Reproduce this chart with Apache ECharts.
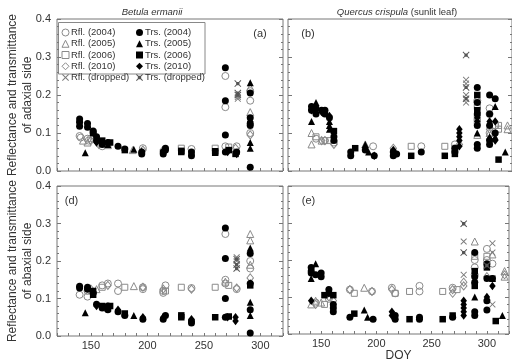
<!DOCTYPE html>
<html><head><meta charset="utf-8">
<script src="https://cdn.jsdelivr.net/npm/echarts@6/dist/echarts.min.js"></script>
<style>html,body{margin:0;padding:0;background:#fff}#c{width:512px;height:363px}</style>
</head><body><div id="c"></div>
<script>
// ---- series names ----
const seriesNames = ['Rfl. (2004)','Rfl. (2005)','Rfl. (2006)','Rfl. (2010)','Rfl. (dropped)',
                     'Trs. (2004)','Trs. (2005)','Trs. (2006)','Trs. (2010)','Trs. (dropped)'];
const xTickLabels = [150,200,250,300];
const yTickLabels = [0.0,0.1,0.2,0.3,0.4];

// ---- Panel (a): Betula ermanii, adaxial ----
const A_rfl2004 = [[140,0.092],[141,0.088],[147,0.085],[148,0.080],[160,0.065],[196,0.060],[239,0.058],[269,0.250],[269,0.168],[269,0.065],[279,0.065],[291,0.210],[291,0.185],[291,0.100]];
const A_rfl2005 = [[143,0.080],[147,0.075],[165,0.068],[187,0.055],[291,0.220],[291,0.155]];
const A_rfl2006 = [[150,0.085],[165,0.070],[230,0.060],[260,0.060],[272,0.063]];
const A_rfl2010 = [[150,0.080],[157,0.070],[196,0.055],[214,0.055],[278,0.060],[291,0.095]];
const A_rflDrop = [[280,0.195],[280,0.190]];
const A_trs2004 = [[140,0.137],[140,0.128],[140,0.118],[147,0.125],[147,0.115],[152,0.105],[152,0.100],[155,0.090],[155,0.080],[160,0.070],[165,0.075],[174,0.065],[180,0.058],[195,0.050],[195,0.045],[214,0.050],[214,0.045],[216,0.055],[216,0.060],[239,0.050],[239,0.040],[269,0.272],[269,0.185],[269,0.095],[269,0.050],[279,0.050],[291,0.205],[291,0.140],[291,0.125],[291,0.120],[291,0.010]];
const A_trs2005 = [[145,0.048],[165,0.070],[188,0.057],[291,0.232],[291,0.075],[291,0.060]];
const A_trs2006 = [[152,0.100],[160,0.080],[167,0.075],[180,0.055],[230,0.053],[230,0.050],[260,0.048],[260,0.052],[272,0.055],[278,0.045]];
const A_trs2010 = [[140,0.130],[155,0.075],[195,0.050],[214,0.050],[239,0.045],[271,0.050],[279,0.045],[291,0.130]];
const A_trsDrop = [[280,0.230],[280,0.205],[280,0.200]];

// ---- Panel (b): Quercus crispula, adaxial ----
const B_rfl2004 = [[145,0.085],[153,0.080],[161,0.075],[196,0.065],[239,0.065],[269,0.070],[289,0.185],[300,0.165],[300,0.150],[300,0.100],[305,0.120]];
const B_rfl2005 = [[141,0.100],[141,0.070],[150,0.080],[189,0.070],[289,0.190],[289,0.095],[300,0.100],[316,0.120],[316,0.110]];
const B_rfl2006 = [[145,0.090],[157,0.080],[230,0.065],[260,0.065],[269,0.060],[289,0.170],[289,0.140],[289,0.130],[305,0.120],[308,0.110],[308,0.120]];
const B_rfl2010 = [[150,0.080],[153,0.080],[161,0.070],[214,0.060],[273,0.070],[300,0.110]];
const B_rflDrop = [[279,0.240],[279,0.230],[279,0.200],[279,0.180]];
const B_trs2004 = [[141,0.170],[141,0.160],[145,0.165],[145,0.150],[150,0.160],[153,0.160],[153,0.150],[157,0.140],[161,0.090],[161,0.080],[176,0.050],[176,0.040],[189,0.055],[197,0.040],[214,0.050],[214,0.040],[217,0.045],[239,0.050],[269,0.050],[269,0.060],[289,0.220],[289,0.180],[289,0.150],[289,0.120],[289,0.070],[289,0.060],[300,0.200],[300,0.150],[300,0.120],[300,0.080],[300,0.070],[305,0.190],[305,0.100]];
const B_trs2005 = [[141,0.130],[141,0.170],[145,0.180],[157,0.130],[157,0.120],[157,0.110],[189,0.070],[192,0.050],[289,0.100],[300,0.090],[305,0.170],[305,0.090],[314,0.050]];
const B_trs2006 = [[161,0.105],[180,0.060],[230,0.040],[260,0.040],[269,0.045],[289,0.200],[289,0.160],[308,0.030]];
const B_trs2010 = [[141,0.160],[150,0.155],[157,0.145],[197,0.040],[214,0.055],[273,0.065],[273,0.080],[273,0.090],[273,0.100],[273,0.110],[289,0.140],[289,0.130],[300,0.130],[300,0.085],[305,0.130],[305,0.080]];
const B_trsDrop = [[279,0.305],[279,0.220],[279,0.190]];

// ---- Panel (d): Betula ermanii, abaxial ----
const D_rfl2004 = [[140,0.110],[147,0.105],[147,0.120],[160,0.135],[165,0.140],[174,0.140],[174,0.120],[196,0.130],[196,0.125],[214,0.115],[214,0.120],[216,0.135],[239,0.128],[269,0.272],[269,0.150],[269,0.140],[279,0.125],[291,0.200],[291,0.180]];
const D_rfl2005 = [[155,0.125],[188,0.133],[269,0.145],[291,0.272],[291,0.255],[291,0.190]];
const D_rfl2006 = [[160,0.130],[180,0.130],[216,0.120],[230,0.130],[260,0.130],[272,0.135]];
const D_rfl2010 = [[150,0.125],[165,0.135],[196,0.130],[214,0.125],[239,0.125],[279,0.128],[291,0.155]];
const D_rflDrop = [[279,0.210],[279,0.200]];
const D_trs2004 = [[140,0.133],[140,0.128],[147,0.130],[147,0.125],[152,0.115],[155,0.085],[160,0.075],[165,0.070],[165,0.080],[174,0.065],[180,0.055],[196,0.045],[214,0.045],[216,0.055],[239,0.040],[239,0.035],[269,0.288],[269,0.207],[269,0.100],[269,0.050],[291,0.220],[291,0.140],[291,0.070],[291,0.008]];
const D_trs2005 = [[145,0.062],[165,0.075],[188,0.055],[291,0.235],[291,0.090],[291,0.055]];
const D_trs2006 = [[152,0.110],[152,0.120],[160,0.080],[167,0.080],[180,0.060],[230,0.055],[230,0.050],[260,0.050],[272,0.052],[291,0.135]];
const D_trs2010 = [[140,0.130],[155,0.080],[174,0.070],[196,0.050],[214,0.050],[239,0.045],[271,0.050],[278,0.050],[278,0.040],[291,0.140]];
const D_trsDrop = [[279,0.205],[279,0.190],[279,0.180]];

// ---- Panel (e): Quercus crispula, abaxial ----
const E_rfl2004 = [[145,0.085],[157,0.095],[176,0.120],[196,0.115],[214,0.125],[217,0.110],[239,0.130],[239,0.115],[269,0.125],[289,0.200],[289,0.180],[289,0.160],[300,0.230],[300,0.200],[305,0.190]];
const E_rfl2005 = [[141,0.080],[145,0.090],[150,0.085],[189,0.125],[289,0.250],[305,0.215],[316,0.170],[316,0.155]];
const E_rfl2006 = [[153,0.080],[180,0.110],[217,0.110],[230,0.115],[260,0.115],[273,0.120],[289,0.210],[300,0.210],[305,0.150]];
const E_rfl2010 = [[145,0.080],[157,0.100],[161,0.090],[176,0.120],[196,0.115],[214,0.120],[269,0.110],[269,0.120],[279,0.140],[279,0.130],[300,0.155],[316,0.160]];
const E_rflDrop = [[279,0.250],[279,0.160],[305,0.245],[305,0.220],[305,0.080]];
const E_trs2004 = [[141,0.180],[141,0.170],[141,0.165],[145,0.160],[150,0.165],[150,0.155],[157,0.120],[157,0.110],[161,0.080],[161,0.070],[161,0.060],[176,0.045],[197,0.040],[217,0.040],[217,0.050],[239,0.045],[239,0.040],[269,0.045],[289,0.220],[289,0.155],[289,0.140],[289,0.060],[289,0.050],[300,0.190],[300,0.150],[300,0.090],[300,0.065],[305,0.150]];
const E_trs2005 = [[141,0.150],[145,0.190],[157,0.115],[189,0.065],[192,0.045],[289,0.100],[305,0.150],[314,0.050]];
const E_trs2006 = [[153,0.105],[161,0.105],[180,0.055],[230,0.040],[260,0.040],[269,0.050],[289,0.170],[289,0.130],[300,0.180],[308,0.035]];
const E_trs2010 = [[141,0.090],[157,0.110],[214,0.060],[214,0.050],[279,0.050],[279,0.060],[279,0.070],[279,0.080],[279,0.090],[300,0.100],[305,0.130]];
const E_trsDrop = [[279,0.298],[279,0.220],[300,0.185]];

const panels = [
  [A_rfl2004,A_rfl2005,A_rfl2006,A_rfl2010,A_rflDrop,A_trs2004,A_trs2005,A_trs2006,A_trs2010,A_trsDrop],
  [B_rfl2004,B_rfl2005,B_rfl2006,B_rfl2010,B_rflDrop,B_trs2004,B_trs2005,B_trs2006,B_trs2010,B_trsDrop],
  [D_rfl2004,D_rfl2005,D_rfl2006,D_rfl2010,D_rflDrop,D_trs2004,D_trs2005,D_trs2006,D_trs2010,D_trsDrop],
  [E_rfl2004,E_rfl2005,E_rfl2006,E_rfl2010,E_rflDrop,E_trs2004,E_trs2005,E_trs2006,E_trs2010,E_trsDrop]
];

// ---- styling ----
const FONT = '"Liberation Sans", Arial, Helvetica, sans-serif';
const X_PATH = 'path://M0,1L1,0L5,4L9,0L10,1L6,5L10,9L9,10L5,6L1,10L0,9L4,5Z';
const XB_PATH = 'path://M0,1L1,0L5,4L9,0L10,1L6,5L10,9L9,10L5,6L1,10L0,9L4,5Z M2.6,2.6L7.4,2.6L7.4,7.4L2.6,7.4Z';
const GREY = '#8a8a8a';
const markStyles = [
  {symbol:'circle',   size:7,     color:'rgba(0,0,0,0)', border:GREY, bw:1},
  {symbol:'triangle', size:7,     color:'rgba(0,0,0,0)', border:GREY, bw:1},
  {symbol:'rect',     size:6,     color:'rgba(0,0,0,0)', border:GREY, bw:1},
  {symbol:'diamond',  size:[6.5,8], color:'rgba(0,0,0,0)', border:GREY, bw:1},
  {symbol:X_PATH,     size:6.5,   color:'#7a7a7a', border:'#7a7a7a', bw:0},
  {symbol:'circle',   size:7,     color:'#000', border:'#000', bw:0},
  {symbol:'triangle', size:7,     color:'#000', border:'#000', bw:0},
  {symbol:'rect',     size:6.5,   color:'#000', border:'#000', bw:0},
  {symbol:'diamond',  size:[6.5,8.5], color:'#000', border:'#000', bw:0},
  {symbol:XB_PATH,    size:7,     color:'#555', border:'#555', bw:0}
];

const grids = [
  {left:57,  top:19,  width:226, height:152},
  {left:288, top:19,  width:227, height:152},
  {left:57,  top:186, width:226, height:150},
  {left:288, top:186, width:227, height:150}
].map(g => Object.assign(g, {show:true, borderColor:'#777', borderWidth:1, backgroundColor:'rgba(0,0,0,0)'}));

const xAxes = grids.map((g,i) => ({
  type:'value', gridIndex:i, min:120, max:320, interval:10,
  axisLine:{show:false},
  axisTick:{show:true, inside:true, length:3, lineStyle:{color:'#777', width:1}},
  axisLabel:{show:i>=2, margin:4, fontSize:11, color:'#333', fontFamily:FONT,
    formatter: v => xTickLabels.indexOf(v) >= 0 ? String(v) : ''},
  splitLine:{show:false},
  name: i===3 ? 'DOY' : '', nameLocation:'middle', nameGap:16,
  nameTextStyle:{fontSize:12, color:'#333', fontFamily:FONT}
}));

const yBase = (i, pos) => ({
  type:'value', gridIndex:i, min:0, max:0.4, interval:0.1, position:pos,
  axisLine:{show:false},
  axisTick:{show:true, inside:true, length:4, lineStyle:{color:'#777', width:1}},
  minorTick:{show:true, splitNumber:5, length:2, lineStyle:{color:'#777', width:1}},
  axisLabel:{show: pos==='left' && i%2===0, margin:6, fontSize:11, color:'#333', fontFamily:FONT,
    formatter: v => { const m = yTickLabels.find(t => Math.abs(t-v) < 1e-9); return m===undefined ? '' : m.toFixed(1); }},
  splitLine:{show:false}, minorSplitLine:{show:false}
});
const yAxes = grids.map((g,i) => yBase(i,'left')).concat(grids.map((g,i) => yBase(i,'right')));

const series = [];
panels.forEach((arrs, p) => {
  arrs.forEach((data, k) => {
    const s = markStyles[k];
    series.push({
      type:'scatter', name:seriesNames[k], xAxisIndex:p, yAxisIndex:p,
      data:data, symbol:s.symbol, symbolSize:s.size, z: k < 5 ? 2 : 3,
      itemStyle:{color:s.color, borderColor:s.border, borderWidth:s.bw, opacity:1},
      emphasis:{disabled:true}, silent:true, animation:false
    });
  });
});

const legendCommon = {
  orient:'vertical', padding:0, itemWidth:7, itemHeight:7, itemGap:1.25,
  selectedMode:false,
  textStyle:{fontSize:9.5, color:'#333', fontFamily:FONT, lineHeight:7, padding:[0,0,0,-3]}
};

const txt = (x, y, text, size, extra) => ({
  type:'text', x:x, y:y, silent:true,
  style:Object.assign({text:text, fill:'#333', fontSize:size, fontFamily:FONT,
    align:'center', verticalAlign:'middle', textAlign:'center', textVerticalAlign:'middle'}, extra || {})
});

const option = {
  animation:false,
  backgroundColor:'#fff',
  grid:grids, xAxis:xAxes, yAxis:yAxes, series:series,
  legend:[
    Object.assign({}, legendCommon, {left:61.5, top:27.5,
      data:seriesNames.slice(0,5).map((n,k) => ({name:n, itemStyle:{borderWidth:markStyles[k].bw}})),
      itemStyle:{borderWidth:1}}),
    Object.assign({}, legendCommon, {left:136, top:27.5,
      data:seriesNames.slice(5).map(n => ({name:n})),
      itemStyle:{borderWidth:0}})
  ],
  graphic:[
    {type:'rect', silent:true, shape:{x:58.5, y:22.5, width:146.5, height:51.5},
     style:{fill:'none', stroke:'#888', lineWidth:1}},
    txt(152, 12.5, 'Betula ermanii', 9.5, {fontStyle:'italic'}),
    txt(397, 12.5, '{i|Quercus crispula} (sunlit leaf)', 9.5,
        {rich:{i:{fontStyle:'italic', fontSize:9.5, fontFamily:FONT, fill:'#333'}}}),
    txt(260, 33.5, '(a)', 11),
    txt(308, 33.5, '(b)', 11),
    txt(71.5, 201, '(d)', 11),
    txt(308.5, 201, '(e)', 11),
    Object.assign(txt(20.5, 95, 'Reflectance and transmittance\nof adaxial side', 12, {lineHeight:15}), {rotation:Math.PI/2}),
    Object.assign(txt(20.5, 261, 'Reflectance and transmittance\nof abaxial side', 12, {lineHeight:15}), {rotation:Math.PI/2})
  ]
};

const chart = echarts.init(document.getElementById('c'), null, {renderer:'canvas', width:512, height:363});
chart.setOption(option);
</script>
</body></html>
